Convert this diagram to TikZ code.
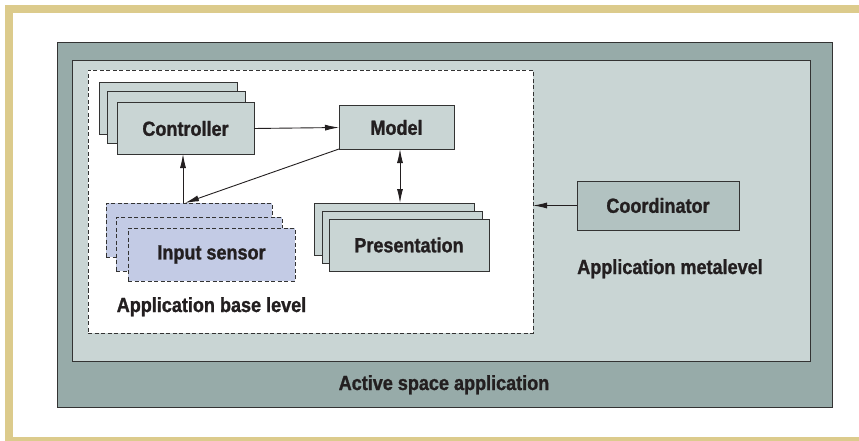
\documentclass[tikz,border=0pt]{standalone}
\usepackage{fontspec}
\setmainfont{Liberation Sans}[FakeStretch=0.88, FakeBold=1.2]
\usetikzlibrary{arrows.meta,calc}
\definecolor{gold}{HTML}{DCCB8C}
\definecolor{outerc}{HTML}{97ABA9}
\definecolor{innerc}{HTML}{C9D5D4}
\definecolor{boxc}{HTML}{C9D5D4}
\definecolor{coordc}{HTML}{B2C2C1}
\definecolor{sensc}{HTML}{C3CBE5}
\definecolor{ink}{HTML}{231F20}
\definecolor{edgec}{HTML}{333333}
\begin{document}
\begin{tikzpicture}[x=1pt,y=-1pt,
  every node/.style={font=\fontsize{20.5}{23}\selectfont\bfseries, text=ink},
  framebox/.style={draw=edgec, line width=1pt},
  stackbox/.style={draw=edgec, line width=1pt, fill=boxc, inner sep=0pt, outer sep=0pt},
  sensbox/.style={draw=edgec, line width=1pt, dash pattern=on 4pt off 2.5pt, fill=sensc, inner sep=0pt, outer sep=0pt},
  arr/.style={draw=ink, line width=0.9pt, -{Latex[length=14pt,width=6pt]}},
  dbl/.style={draw=ink, line width=0.9pt, {Latex[length=14pt,width=6pt]}-{Latex[length=14pt,width=6pt]}},
  lbl/.style={anchor=base, inner sep=0pt}
]
\useasboundingbox (0,0) rectangle (859,441);
\fill[white] (0,0) rectangle (859,441);
% gold frame (open on the right)
\fill[gold] (5,5) rectangle (859,13);
\fill[gold] (5,5) rectangle (13,441);
\fill[gold] (5,437) rectangle (859,441);
% application boxes
\node[framebox, fill=outerc, minimum width=775pt, minimum height=364pt, inner sep=0pt] (outer) at (444.5,225) {};
\node[framebox, fill=innerc, minimum width=738pt, minimum height=300pt, inner sep=0pt] (inner) at (441,211) {};
\node[draw=edgec, line width=0.9pt, dash pattern=on 4pt off 2.5pt, fill=white, minimum width=445pt, minimum height=263pt, inner sep=0pt, outer sep=0pt] (base) at (310.5,201.5) {};
% controller stack
\node[stackbox, minimum width=138pt, minimum height=52pt] (ctrlb) at (168,109) {};
\node[stackbox, minimum width=138pt, minimum height=52pt] (ctrlm) at (176,117.5) {};
\node[stackbox, minimum width=137pt, minimum height=51pt] (ctrl) at (185.5,128.5) {Controller};
% model
\node[stackbox, minimum width=115pt, minimum height=43pt] (model) at (396.5,127.5) {Model};
% presentation stack
\node[stackbox, minimum width=160pt, minimum height=52pt] (presb) at (394,229) {};
\node[stackbox, minimum width=160pt, minimum height=52pt] (presm) at (402,237) {};
\node[stackbox, minimum width=160pt, minimum height=52pt] (pres) at (409,245) {Presentation};
% input sensor stack
\node[sensbox, minimum width=166pt, minimum height=54pt] (sensb) at (189,230) {};
\node[sensbox, minimum width=166pt, minimum height=54pt] (sensm) at (199,244) {};
\node[sensbox, minimum width=167pt, minimum height=53pt] (sens) at (211.5,254.5) {Input sensor};
% coordinator
\node[draw=edgec, line width=1pt, fill=coordc, minimum width=162pt, minimum height=49pt, inner sep=0pt, outer sep=0pt] (coord) at (658,205.5) {Coordinator};
% labels
\node[lbl] (baselbl) at (211.5,312) {Application base level};
\node[lbl] (metalbl) at (670,274) {Application metalevel};
\node[lbl] (actlbl) at (444,390) {Active space application};
% connectors
\draw[arr] (ctrl.east) -- (model.west);
\draw[dbl] ([xshift=3.5pt]model.south) -- ([xshift=3.5pt]model.south |- presb.north);
\draw[arr] (model.south west) -- ([xshift=-4pt]sensb.north);
\draw[arr] ([xshift=-6pt]sensb.north) -- ([xshift=-6pt]sensb.north |- ctrl.south);
\draw[arr] (coord.west) -- (coord.west -| base.east);
\end{tikzpicture}
\end{document}
